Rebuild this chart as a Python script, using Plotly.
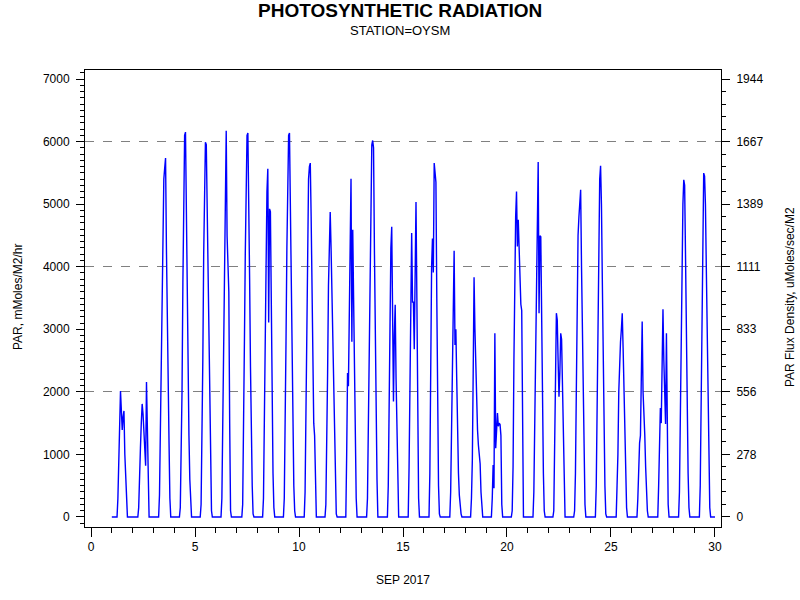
import plotly.graph_objects as go

# ---- data: hourly PAR (mMoles/M2/hr), Sep 2017, hours 0..23 of each day ----
days = list(range(1, 30))
hours = list(range(24))
sep01 = [0,0,0,0,0,0,0,300,900,1500,2015,1700,1391,1600,1695,1000,700,150,0,0,0,0,0,0]
sep02 = [0,0,0,0,0,0,0,150,500,1100,1500,1807,1650,1400,1250,820,2159,1300,500,0,0,0,0,0]
sep03 = [0,0,0,0,0,0,0,350,1340,2600,3700,4700,5400,5576,5736,4300,3000,2300,1200,300,0,0,0,0]
sep04 = [0,0,0,0,0,0,0,150,800,2000,3750,5300,6100,6152,4700,3300,2100,1300,600,100,0,0,0,0]
sep05 = [0,0,0,0,0,0,0,200,1000,2500,4200,5500,5990,5950,5000,3800,2600,1500,700,100,0,0,0,0]
sep06 = [0,0,0,0,0,0,0,300,1500,3000,4500,5800,6173,4500,3800,3600,1500,100,0,0,0,0,0,0]
sep07 = [0,0,0,0,0,0,0,200,1200,2800,4200,5400,6100,6136,5200,3800,2400,1200,500,50,0,0,0,0]
sep08 = [0,0,0,0,0,0,0,300,1300,2600,4000,5200,5565,3107,4925,4880,3200,1800,700,150,0,0,0,0]
sep09 = [0,0,0,0,0,0,0,300,1300,2800,4300,5500,6100,6136,5000,3700,2300,1200,500,100,0,0,0,0]
sep10 = [0,0,0,0,0,0,0,400,1500,3000,4400,5400,5600,5656,4800,3500,2300,1500,1300,200,0,0,0,0]
sep11 = [0,0,0,0,0,0,0,200,1000,2300,3700,4700,4873,4300,3500,2700,1900,1100,400,50,0,0,0,0]
sep12 = [0,0,0,0,0,0,0,1000,2300,2090,3400,4500,5405,2800,4590,3500,2200,1100,300,0,0,0,0,0]
sep13 = [0,0,0,0,0,0,0,300,1400,2900,4300,5400,5950,6017,5900,4300,2800,1700,600,0,0,0,0,0]
sep14 = [0,0,0,0,0,0,0,500,1800,3200,4300,4638,2600,1844,2900,3390,2200,1200,300,0,0,0,0,0]
sep15 = [0,0,0,0,0,0,0,800,2000,3500,4537,3434,3434,2682,3800,5033,3500,1800,300,0,0,0,0,0]
sep16 = [0,0,0,0,0,0,0,700,2500,4000,4450,3908,5656,5400,5350,3500,1500,500,50,0,0,0,0,0]
sep17 = [0,0,0,0,0,0,0,400,1400,2500,3300,4254,2750,3000,2200,1300,700,350,150,50,0,0,0,0]
sep18 = [0,0,0,0,0,0,0,300,900,2300,3833,3000,2300,1800,1390,1150,950,850,400,50,0,0,0,0]
sep19 = [0,0,0,0,0,0,0,300,831,460,2937,1100,1550,1660,1450,1500,1480,1300,200,0,0,0,0,0]
sep20 = [0,0,0,0,0,0,100,800,2500,4000,4800,5203,4323,4750,4300,3700,3400,3300,1000,0,0,0,0,0]
sep21 = [0,0,0,0,0,0,0,400,1500,3000,4300,5200,5672,3257,4494,4480,3000,1700,700,100,0,0,0,0]
sep22 = [0,0,0,0,0,0,100,900,2200,3257,3150,2500,1924,2300,2937,2840,2000,1100,300,0,0,0,0,0]
sep23 = [0,0,0,0,0,0,100,700,2000,3600,4500,4800,5100,5230,4000,2800,1700,800,200,0,0,0,0,0]
sep24 = [0,0,0,0,0,0,0,500,2000,3500,4600,5400,5613,5000,3800,2500,1400,500,50,0,0,0,0,0]
sep25 = [0,0,0,0,0,0,0,500,1000,2000,2700,2800,3000,3257,2700,2030,1300,600,150,0,0,0,0,0]
sep26 = [0,0,0,0,0,0,0,300,1000,1180,1300,2000,3124,2000,1418,1311,800,350,100,0,0,0,0,0]
sep27 = [0,0,0,0,0,0,0,500,1500,1740,1500,2200,3321,2500,1800,1487,2937,1200,200,0,0,0,0,0]
sep28 = [0,0,0,0,0,0,0,400,1500,3000,4300,5000,5389,5300,4200,2800,1600,700,150,0,0,0,0,0]
sep29 = [0,0,0,0,0,0,0,500,1800,3300,4600,5496,5450,5000,4000,2800,1600,700,150,0,0,0,0,0]
last_day = 30
last_value = 0

left_ticks = [0, 1000, 2000, 3000, 4000, 5000, 6000, 7000]
right_labels = ["0", "278", "556", "833", "1111", "1389", "1667", "1944"]
grid_levels = [2000, 4000, 6000]
x_ticks = [0, 5, 10, 15, 20, 25, 30]

day_values = [sep01, sep02, sep03, sep04, sep05, sep06, sep07, sep08, sep09, sep10,
              sep11, sep12, sep13, sep14, sep15, sep16, sep17, sep18, sep19, sep20,
              sep21, sep22, sep23, sep24, sep25, sep26, sep27, sep28, sep29]

t, par = [], []
for d, vals in zip(days, day_values):
    for h, v in zip(hours, vals):
        t.append(d + h / 24.0)
        par.append(v)
t.append(last_day)
par.append(last_value)

FACTOR = 3.6  # mMoles/M2/hr -> uMoles/sec/M2
yr = [-160, 7144]
xr = [-0.29, 30.29]
FONT = "Liberation Sans, Arial, sans-serif"

fig = go.Figure()
fig.add_trace(go.Scatter(x=t, y=par, mode="lines",
                         line=dict(color="#0000FF", width=1.4),
                         showlegend=False, hoverinfo="x+y"))
fig.add_trace(go.Scatter(x=t, y=[v / FACTOR for v in par], mode="lines", yaxis="y2",
                         line=dict(color="rgba(0,0,0,0)", width=0),
                         showlegend=False, hoverinfo="skip"))
fig.add_trace(go.Scatter(x=t, y=par, mode="lines", yaxis="y3",
                         line=dict(color="rgba(0,0,0,0)", width=0),
                         showlegend=False, hoverinfo="skip"))

axis_font = dict(family=FONT, size=12, color="black")

fig.update_layout(
    width=800, height=600,
    paper_bgcolor="white", plot_bgcolor="white",
    margin=dict(l=85, r=79, t=70, b=73),
    font=axis_font,
    xaxis=dict(range=xr, tickmode="array", tickvals=x_ticks,
               ticks="outside", ticklen=9, tickcolor="black", tickwidth=1,
               showline=True, linecolor="black", linewidth=1, mirror=True,
               showgrid=False, zeroline=False, tickfont=axis_font,
               automargin=False,
               minor=dict(dtick=1, tick0=0, ticks="outside", ticklen=5,
                          tickcolor="black", showgrid=False)),
    yaxis=dict(range=yr, tickmode="array", tickvals=left_ticks,
               ticks="outside", ticklen=8, tickcolor="black",
               showline=True, linecolor="black", linewidth=1, mirror=True,
               showgrid=False, zeroline=False, tickfont=axis_font,
               ticklabelstandoff=4, automargin=False,
               minor=dict(dtick=100, tick0=0, ticks="outside", ticklen=4,
                          tickcolor="black", showgrid=False)),
    yaxis2=dict(range=[v / FACTOR for v in yr], overlaying="y", side="right",
                tickmode="array", tickvals=[v / FACTOR for v in left_ticks],
                ticktext=right_labels,
                ticks="outside", ticklen=8, tickcolor="black",
                showline=True, linecolor="black", linewidth=1,
                showgrid=False, zeroline=False, tickfont=axis_font,
                ticklabelstandoff=4, automargin=False,
                minor=dict(dtick=1000 / FACTOR / 5, tick0=0, ticks="outside",
                           ticklen=4, tickcolor="black", showgrid=False)),
    yaxis3=dict(range=yr, overlaying="y", side="left",
                tickmode="array", tickvals=grid_levels,
                showticklabels=False, ticks="", showline=False,
                showgrid=True, gridcolor="#808080", gridwidth=1, griddash="dash",
                zeroline=False, automargin=False),
)

def label(text, px, py, size=12, angle=0):
    fig.add_annotation(text=text, xref="paper", yref="paper",
                       x=(px - 85) / 636, y=(527 - py) / 457,
                       xanchor="center", yanchor="middle",
                       textangle=angle, showarrow=False,
                       font=dict(family=FONT, size=size, color="black"))

label("<b>PHOTOSYNTHETIC RADIATION</b>", 400, 11, size=19)
label("STATION=OYSM", 400, 31, size=13)
label("SEP 2017", 403, 580)
label("PAR, mMoles/M2/hr", 18, 297, angle=-90)
label("PAR Flux Density, uMoles/sec/M2", 790, 297, angle=-90)

fig.write_html("out.html", config={"displayModeBar": False},
               post_script="document.body.style.margin='0';document.body.style.padding='0';")
